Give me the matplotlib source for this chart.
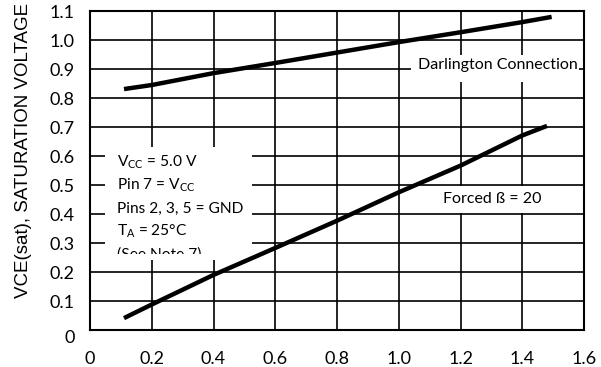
import matplotlib
matplotlib.use("Agg")
import matplotlib.pyplot as plt
from matplotlib.patches import Rectangle
from matplotlib.transforms import Bbox, TransformedBbox

plt.rcParams['font.family'] = ['Lato', 'DejaVu Sans']
plt.rcParams['mathtext.fontset'] = 'custom'
plt.rcParams['mathtext.rm'] = 'Lato'

# datos
ic_darl = [0.11, 0.2, 0.4, 0.6, 1.0, 1.2, 1.4, 1.495]
vce_darl = [0.831, 0.845, 0.886, 0.921, 0.993, 1.027, 1.062, 1.08]
ic_forced = [0.11, 0.2, 0.4, 0.6, 0.8, 1.0, 1.2, 1.4, 1.48]
vce_forced = [0.041, 0.088, 0.19, 0.283, 0.377, 0.475, 0.567, 0.671, 0.704]

xticks = [0, 0.2, 0.4, 0.6, 0.8, 1.0, 1.2, 1.4, 1.6]
xlabels = ['0', '0.2', '0.4', '0.6', '0.8', '1.0', '1.2', '1.4', '1.6']
yticks = [0, 0.1, 0.2, 0.3, 0.4, 0.5, 0.6, 0.7, 0.8, 0.9, 1.0, 1.1]
ylabels = ['0', '0.1', '0.2', '0.3', '0.4', '0.5', '0.6', '0.7', '0.8', '0.9', '1.0', '1.1']

notas = [r'$\mathregular{V_{CC}}$ = 5.0 V',
         r'Pin 7 = $\mathregular{V_{CC}}$',
         'Pins 2, 3, 5 = GND',
         r'$\mathregular{T_A}$ = 25°C',
         '(See Note 7)']

fig = plt.figure(figsize=(6.01, 3.67), dpi=100)
ax = fig.add_axes([0.1498, 0.1008, 0.822, 0.869])

ax.set_xlim(0, 1.6)
ax.set_ylim(0, 1.1)
ax.set_xticks(xticks)
ax.set_xticklabels(xlabels)
ax.set_yticks(yticks)
ax.set_yticklabels(ylabels)
ax.tick_params(length=0, labelsize=13)
ax.tick_params(axis='x', pad=15)
ax.tick_params(axis='y', pad=11)
ax.get_yticklabels()[0].set_va('top')

ax.set_axisbelow(True)
ax.grid(True, color='black', linewidth=1.2)
for s in ax.spines.values():
    s.set_linewidth(1.5)

# recuadros blancos que tapan la reticula
ax.add_patch(Rectangle((0.05, 0.24), 0.475, 0.39, facecolor='white', edgecolor='none', zorder=1))
ax.add_patch(Rectangle((1.04, 0.855), 0.545, 0.095, facecolor='white', edgecolor='none', zorder=1))
ax.add_patch(Rectangle((1.1, 0.404), 0.4, 0.092, facecolor='white', edgecolor='none', zorder=1))

ax.plot(ic_darl, vce_darl, color='black', linewidth=3.2, solid_capstyle='butt', zorder=3)
ax.plot(ic_forced, vce_forced, color='black', linewidth=3.2, solid_capstyle='butt', zorder=3)

# el texto del recuadro queda cortado abajo, como en el original
caja = TransformedBbox(Bbox([[0.05, 0.262], [0.525, 0.63]]), ax.transData)
for i, t in enumerate(notas):
    txt = ax.text(0.087, 0.579 - i * 0.08, t, fontsize=11.2, va='center', ha='left', zorder=2)
    txt.set_clip_box(caja)
    txt.set_clip_on(True)

ax.text(1.322, 0.914, 'Darlington Connection', fontsize=11.5, ha='center', va='center', zorder=2)
ax.text(1.304, 0.452, 'Forced ß = 20', fontsize=11.5, ha='center', va='center', zorder=2)

fig.text(24 / 601, 1 - 150 / 367, 'VCE(sat), SATURATION VOLTAGE', rotation=90,
         ha='center', va='center', fontsize=13.5, family=['Liberation Sans', 'DejaVu Sans'])

fig.savefig('out.png', dpi=100)
